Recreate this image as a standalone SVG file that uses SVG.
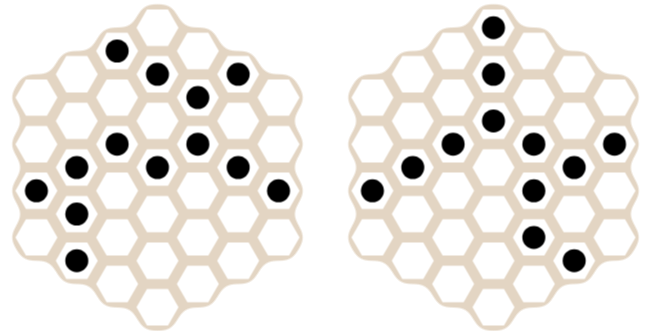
<svg xmlns="http://www.w3.org/2000/svg" xmlns:xlink="http://www.w3.org/1999/xlink" width="649" height="331" viewBox="0 0 649 331">
  <style>
    .frame { fill: #e3d5c3; stroke: #e3d5c3; stroke-width: 10.4; stroke-linejoin: miter; }
    .cell { fill: #ffffff; }
    .stone { fill: #000000; }
  </style>
  <defs>
    <polygon id="W" points="21,0 10.5,18.19 -10.5,18.19 -21,0 -10.5,-18.19 10.5,-18.19"/>
    <g id="cells">
      <use href="#W" x="-121.05" y="-69.9"/><use href="#W" x="-121.05" y="-23.3"/><use href="#W" x="-121.05" y="23.3"/><use href="#W" x="-121.05" y="69.9"/>
      <use href="#W" x="-80.7" y="-93.2"/><use href="#W" x="-80.7" y="-46.6"/><use href="#W" x="-80.7" y="0"/><use href="#W" x="-80.7" y="46.6"/><use href="#W" x="-80.7" y="93.2"/>
      <use href="#W" x="-40.35" y="-116.5"/><use href="#W" x="-40.35" y="-69.9"/><use href="#W" x="-40.35" y="-23.3"/><use href="#W" x="-40.35" y="23.3"/><use href="#W" x="-40.35" y="69.9"/><use href="#W" x="-40.35" y="116.5"/>
      <use href="#W" x="0" y="-139.8"/><use href="#W" x="0" y="-93.2"/><use href="#W" x="0" y="-46.6"/><use href="#W" x="0" y="0"/><use href="#W" x="0" y="46.6"/><use href="#W" x="0" y="93.2"/><use href="#W" x="0" y="139.8"/>
      <use href="#W" x="40.35" y="-116.5"/><use href="#W" x="40.35" y="-69.9"/><use href="#W" x="40.35" y="-23.3"/><use href="#W" x="40.35" y="23.3"/><use href="#W" x="40.35" y="69.9"/><use href="#W" x="40.35" y="116.5"/>
      <use href="#W" x="80.7" y="-93.2"/><use href="#W" x="80.7" y="-46.6"/><use href="#W" x="80.7" y="0"/><use href="#W" x="80.7" y="46.6"/><use href="#W" x="80.7" y="93.2"/>
      <use href="#W" x="121.05" y="-69.9"/><use href="#W" x="121.05" y="-23.3"/><use href="#W" x="121.05" y="23.3"/><use href="#W" x="121.05" y="69.9"/>
    </g>
    <filter id="smooth" x="-20%" y="-20%" width="140%" height="140%" color-interpolation-filters="sRGB">
      <feGaussianBlur in="SourceAlpha" stdDeviation="6.5" result="b"/>
      <feComponentTransfer in="b" result="t">
        <feFuncA type="linear" slope="8" intercept="-3.5"/>
      </feComponentTransfer>
      <feFlood flood-color="#e3d5c3" result="c"/>
      <feComposite in="c" in2="t" operator="in"/>
    </filter>
  </defs>

  <g id="board-left" transform="translate(157.5,167.5)">
    <use href="#cells" class="frame" filter="url(#smooth)"/>
    <use href="#cells" class="cell"/>
    <g id="stones-left" class="stone">
      <circle cx="-40.35" cy="-116.5" r="11.5"/>
      <circle cx="0" cy="-93.2" r="11.5"/>
      <circle cx="80.7" cy="-93.2" r="11.5"/>
      <circle cx="40.35" cy="-69.9" r="11.5"/>
      <circle cx="-40.35" cy="-23.3" r="11.5"/>
      <circle cx="40.35" cy="-23.3" r="11.5"/>
      <circle cx="-80.7" cy="0" r="11.5"/>
      <circle cx="0" cy="0" r="11.5"/>
      <circle cx="80.7" cy="0" r="11.5"/>
      <circle cx="-121.05" cy="23.3" r="11.5"/>
      <circle cx="121.05" cy="23.3" r="11.5"/>
      <circle cx="-80.7" cy="46.6" r="11.5"/>
      <circle cx="-80.7" cy="93.2" r="11.5"/>
    </g>
  </g>

  <g id="board-right" transform="translate(493.5,167.5)">
    <use href="#cells" class="frame" filter="url(#smooth)"/>
    <use href="#cells" class="cell"/>
    <g id="stones-right" class="stone">
      <circle cx="0" cy="-139.8" r="11.5"/>
      <circle cx="0" cy="-93.2" r="11.5"/>
      <circle cx="0" cy="-46.6" r="11.5"/>
      <circle cx="-40.35" cy="-23.3" r="11.5"/>
      <circle cx="40.35" cy="-23.3" r="11.5"/>
      <circle cx="121.05" cy="-23.3" r="11.5"/>
      <circle cx="-80.7" cy="0" r="11.5"/>
      <circle cx="80.7" cy="0" r="11.5"/>
      <circle cx="-121.05" cy="23.3" r="11.5"/>
      <circle cx="40.35" cy="23.3" r="11.5"/>
      <circle cx="40.35" cy="69.9" r="11.5"/>
      <circle cx="80.7" cy="93.2" r="11.5"/>
    </g>
  </g>
</svg>
